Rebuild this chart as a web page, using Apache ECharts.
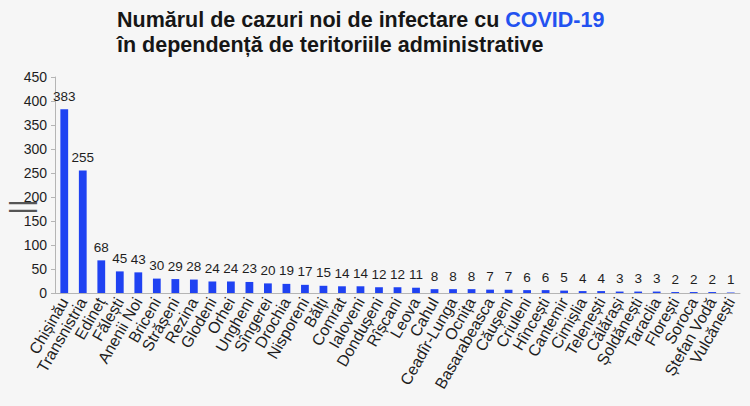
<!DOCTYPE html>
<html>
<head>
<meta charset="utf-8">
<script src="https://cdn.jsdelivr.net/npm/echarts@6/dist/echarts.min.js"></script>
<style>
  html, body { margin: 0; padding: 0; background: #f6f6f6; }
  #chart { width: 750px; height: 406px; }
</style>
</head>
<body>
<div id="chart"></div>
<script>
const districts = [
  "Chișinău", "Transnistria", "Edineț", "Fălești", "Anenii Noi", "Briceni", "Strășeni",
  "Rezina", "Glodeni", "Orhei", "Ungheni", "Sîngerei", "Drochia", "Nisporeni", "Bălți",
  "Comrat", "Ialoveni", "Dondușeni", "Rîșcani", "Leova", "Cahul", "Ceadîr-Lunga", "Ocnița",
  "Basarabeasca", "Căușeni", "Criuleni", "Hîncești", "Cantemir", "Cimișlia", "Telenești",
  "Călărași", "Șoldănești", "Taraclia", "Florești", "Soroca", "Ștefan Vodă", "Vulcănești",
];
const newCases = [
  383, 255, 68, 45, 43, 30, 29,
  28, 24, 24, 23, 20, 19, 17, 15,
  14, 14, 12, 12, 11, 8, 8, 8,
  7, 7, 6, 6, 5, 4, 4,
  3, 3, 3, 2, 2, 2, 1,
];
const yTicks = { min: 0, max: 450, interval: 50 };

const chart = echarts.init(document.getElementById("chart"), undefined, { renderer: "svg" });
chart.setOption({
  backgroundColor: "#f6f6f6",
  textStyle: { fontFamily: "Liberation Sans, Arial, sans-serif" },
  title: {
    text: "{t|Numărul de cazuri noi de infectare cu }{b|COVID-19}\n{t|în dependență de teritoriile administrative}",
    left: 112,
    top: 2,
    textStyle: {
      rich: {
        t: { fontSize: 21.5, fontWeight: "bold", color: "#161616", lineHeight: 25 },
        b: { fontSize: 21.5, fontWeight: "bold", color: "#2352f0", lineHeight: 25 },
      },
    },
  },
  grid: { left: 55, right: 10, top: 77, bottom: 113, outerBoundsMode: "none", containLabel: false },
  xAxis: {
    type: "category",
    data: districts,
    axisLine: { lineStyle: { color: "#b5b5b5" } },
    axisTick: { length: 5, lineStyle: { color: "#b5b5b5" } },
    axisLabel: {
      interval: 0,
      rotate: 60,
      fontSize: 16,
      color: "#1e1e1e",
      margin: 6,
    },
  },
  yAxis: {
    type: "value",
    min: yTicks.min,
    max: yTicks.max,
    interval: yTicks.interval,
    name: "||",
    nameLocation: "middle",
    nameGap: 20,
    nameMoveOverlap: false,
    nameTextStyle: { fontSize: 30, color: "#555", padding: [0, 44, 0, 0] },
    axisLine: { show: true, lineStyle: { color: "#b5b5b5" } },
    axisTick: { show: true, length: 4, lineStyle: { color: "#b5b5b5" } },
    axisLabel: { fontSize: 14, color: "#1e1e1e", margin: 8 },
    splitLine: { show: false },
  },
  series: [
    {
      type: "bar",
      data: newCases,
      barWidth: "42%",
      itemStyle: { color: "#1f42f2" },
      label: { show: true, position: "top", fontSize: 13.5, color: "#1e1e1e", distance: 6 },
    },
  ],
});
</script>
</body>
</html>
